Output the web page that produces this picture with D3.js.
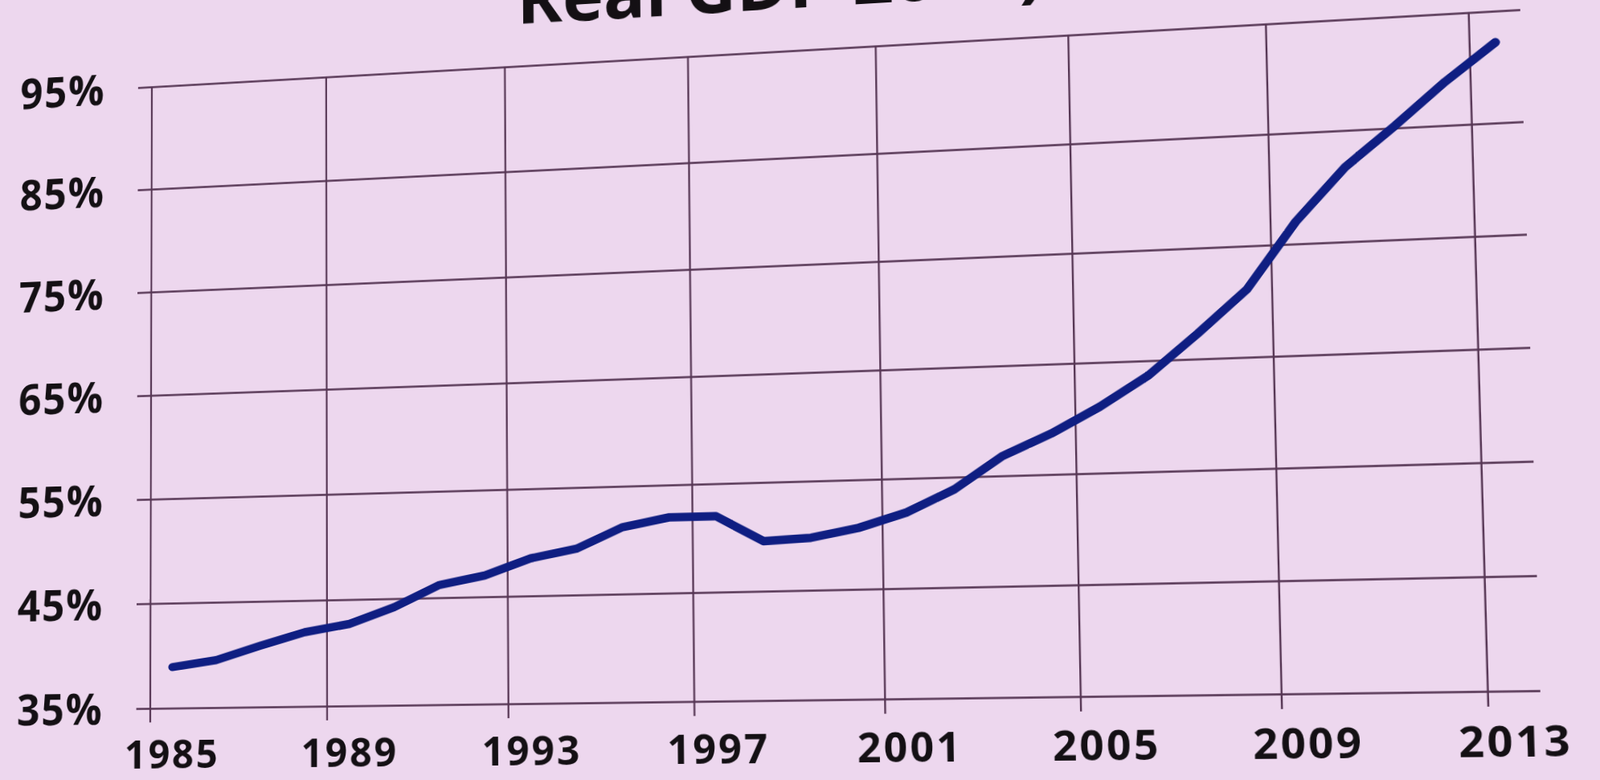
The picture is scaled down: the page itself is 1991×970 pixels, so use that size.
<!DOCTYPE html>
<html>
<head>
<meta charset="utf-8">
<script src="https://d3js.org/d3.v7.min.js"></script>
<style>
html, body { margin: 0; padding: 0; width: 1991px; height: 970px; overflow: hidden; background: #edd7ee; }
#chart { position: absolute; left: 0; top: 0; transform-origin: 0 0; overflow: visible; }
text { font-family: "Open Sans", "Noto Sans", sans-serif; font-weight: 700; fill: #141014; }
</style>
</head>
<body>
<svg id="chart" width="1991" height="970"></svg>
<script>
// series (ratio in %)
var years = [1985, 1986, 1987, 1988, 1989, 1990, 1991, 1992, 1993, 1994,
             1995, 1996, 1997, 1998, 1999, 2000, 2001, 2002, 2003, 2004,
             2005, 2006, 2007, 2008, 2009, 2010, 2011, 2012, 2013];
var ratio = [38.9, 39.5, 40.8, 42.0, 42.7, 44.2, 46.2, 47.0, 48.5, 49.3,
             51.2, 52.0, 52.0, 49.6, 49.8, 50.6, 51.9, 53.9, 56.8, 58.7,
             61.0, 63.7, 67.3, 71.1, 77.0, 81.7, 85.2, 88.9, 92.2];
var yTicks = [35, 45, 55, 65, 75, 85, 95];
var xTickYears = [1985, 1989, 1993, 1997, 2001, 2005, 2009, 2013];
var titleText = "Real GDP 2007)";

var margin = {top: 60, left: 188};
var width = 1717, height = 810;

// the picture is a photo of a slide: map the flat plot corners onto the photographed ones
var flatCorners = [[margin.left, margin.top], [margin.left + width, margin.top],
                   [margin.left + width, margin.top + height], [margin.left, margin.top + height]];
var photoCorners = [[189, 108], [1892, 12], [1917, 859], [187, 881]];

function solveHomography(src, dst) {
	var A = [], b = [];
	for (var i = 0; i < 4; i++) {
		var x = src[i][0], y = src[i][1], u = dst[i][0], v = dst[i][1];
		A.push([x, y, 1, 0, 0, 0, -x * u, -y * u]); b.push(u);
		A.push([0, 0, 0, x, y, 1, -x * v, -y * v]); b.push(v);
	}
	var n = 8;
	for (var c = 0; c < n; c++) {
		var p = c;
		for (var r = c + 1; r < n; r++) if (Math.abs(A[r][c]) > Math.abs(A[p][c])) p = r;
		var t = A[c]; A[c] = A[p]; A[p] = t;
		t = b[c]; b[c] = b[p]; b[p] = t;
		for (var r = c + 1; r < n; r++) {
			var f = A[r][c] / A[c][c];
			for (var k = c; k < n; k++) A[r][k] -= f * A[c][k];
			b[r] -= f * b[c];
		}
	}
	var h = new Array(n);
	for (var r = n - 1; r >= 0; r--) {
		var s = b[r];
		for (var k = r + 1; k < n; k++) s -= A[r][k] * h[k];
		h[r] = s / A[r][r];
	}
	return h;
}

var h = solveHomography(flatCorners, photoCorners);
var m3d = [h[0], h[3], 0, h[6], h[1], h[4], 0, h[7], 0, 0, 1, 0, h[2], h[5], 0, 1]
	.map(function(d) { return d.toFixed(12); });

var svg = d3.select("#chart").style("transform", "matrix3d(" + m3d.join(",") + ")");

var x = d3.scaleBand().domain(years).range([0, width]).padding(0);
var y = d3.scaleLinear().domain([35, 95]).range([height, 0]);

var g = svg.append("g").attr("transform", "translate(" + margin.left + "," + margin.top + ")");

// title, mostly cut off by the top of the photo
g.append("text")
	.attr("x", 490)
	.attr("y", -54)
	.attr("font-size", 90)
	.text(titleText);

// horizontal gridlines + % labels
var yAxis = d3.axisLeft(y)
	.tickValues(yTicks)
	.tickSize(-width)
	.tickPadding(64)
	.tickFormat(function(d) { return d + "%"; });
var yg = g.append("g").call(yAxis);
yg.select(".domain").remove();
yg.selectAll("line")
	.attr("x1", -19)
	.attr("stroke", "#553553")
	.attr("stroke-width", 2.3);
yg.selectAll("text")
	.attr("font-size", 55)
	.attr("font-family", null)
	.attr("letter-spacing", 2)
	.attr("dy", "0.36em");

// vertical gridlines every 4 years on the category boundaries
g.append("g").selectAll("line")
	.data(xTickYears)
	.enter().append("line")
	.attr("x1", function(d) { return x(d); })
	.attr("x2", function(d) { return x(d); })
	.attr("y1", 0)
	.attr("y2", height + 18)
	.attr("stroke", "#553553")
	.attr("stroke-width", 2.3);

// year labels centred on their category
var xAxis = d3.axisBottom(x)
	.tickValues(xTickYears)
	.tickSize(0)
	.tickPadding(41);
var xg = g.append("g").attr("transform", "translate(0," + height + ")").call(xAxis);
xg.select(".domain").remove();
xg.selectAll("text")
	.attr("font-size", 51)
	.attr("font-family", null)
	.attr("letter-spacing", 3);

var line = d3.line()
	.x(function(d, i) { return x(years[i]) + x.bandwidth() / 2; })
	.y(function(d) { return y(d); });

g.append("path")
	.datum(ratio)
	.attr("d", line)
	.attr("fill", "none")
	.attr("stroke", "#0f1e82")
	.attr("stroke-width", 10.5)
	.attr("stroke-linejoin", "round")
	.attr("stroke-linecap", "round");
</script>
</body>
</html>
